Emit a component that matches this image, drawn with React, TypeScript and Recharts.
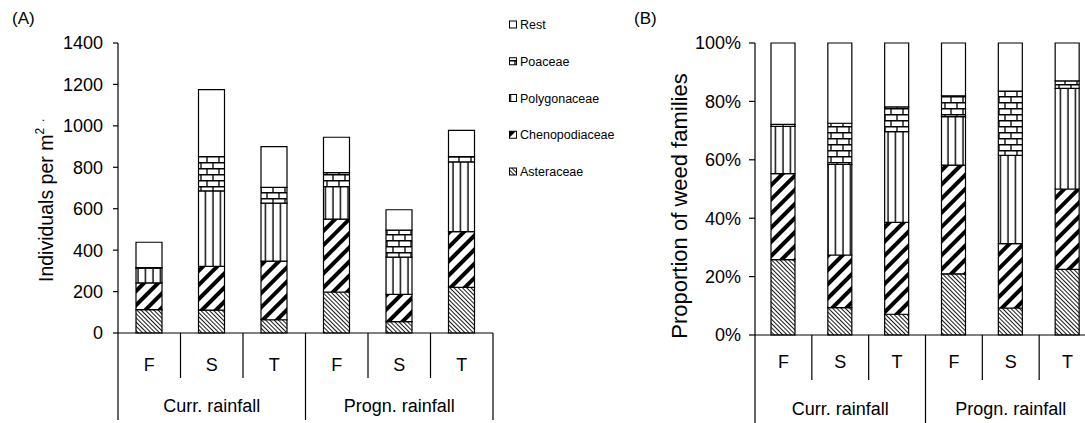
import React from 'react';
import { BarChart, Bar, XAxis, YAxis, Legend } from 'recharts';

// Weed seedling counts (individuals per m²) by family, season and rainfall scenario
const seasons = ['F', 'S', 'T', 'F', 'S', 'T'];
const scenarios = [
  'Curr. rainfall', 'Curr. rainfall', 'Curr. rainfall',
  'Progn. rainfall', 'Progn. rainfall', 'Progn. rainfall',
];
const asteraceae = [113, 110, 64, 198, 55, 220];
const chenopodiaceae = [129, 212, 283, 352, 131, 269];
const polygonaceae = [71, 364, 280, 157, 180, 337];
const poaceae = [3, 166, 76, 67, 131, 25];
const rest = [122, 323, 197, 171, 98, 127];

const countTicks = [0, 200, 400, 600, 800, 1000, 1200, 1400];
const shareTicks = [0, 0.2, 0.4, 0.6, 0.8, 1];

// Stack order, bottom to top
const families = [
  { key: 'asteraceae', name: 'Asteraceae', fill: 'aster' },
  { key: 'chenopodiaceae', name: 'Chenopodiaceae', fill: 'cheno' },
  { key: 'polygonaceae', name: 'Polygonaceae', fill: 'poly' },
  { key: 'poaceae', name: 'Poaceae', fill: 'poa' },
  { key: 'rest', name: 'Rest', fill: 'rest' },
];

const rows = seasons.map((season, i) => ({
  id: `${scenarios[i]}-${season}-${i}`,
  season,
  scenario: scenarios[i],
  asteraceae: asteraceae[i],
  chenopodiaceae: chenopodiaceae[i],
  polygonaceae: polygonaceae[i],
  poaceae: poaceae[i],
  rest: rest[i],
}));

const FONT = "'Liberation Sans', Arial, Helvetica, sans-serif";
const INK = '#000';

const hatchDefs = (p: string) => (
  <defs>
    <pattern id={`${p}-aster`} width={3} height={3} patternUnits="userSpaceOnUse" patternTransform="rotate(-45)">
      <rect width={3} height={3} fill="#fff" />
      <line x1={0.5} y1={0} x2={0.5} y2={3} stroke={INK} strokeWidth={0.9} />
    </pattern>
    <pattern id={`${p}-cheno`} width={10} height={10} patternUnits="userSpaceOnUse" patternTransform="rotate(45)">
      <rect width={10} height={10} fill="#fff" />
      <rect x={0} y={0} width={4} height={10} fill={INK} />
    </pattern>
    <pattern id={`${p}-poly`} width={7.5} height={10} patternUnits="userSpaceOnUse">
      <rect width={7.5} height={10} fill="#fff" />
      <line x1={3} x2={3} y1={0} y2={10} stroke={INK} strokeWidth={1.4} />
    </pattern>
    <pattern id={`${p}-poa`} width={12} height={12} patternUnits="userSpaceOnUse">
      <rect width={12} height={12} fill="#fff" />
      <line x1={0} x2={12} y1={0.75} y2={0.75} stroke={INK} strokeWidth={1.5} />
      <line x1={0} x2={12} y1={6.75} y2={6.75} stroke={INK} strokeWidth={1.5} />
      <line x1={3} x2={3} y1={0} y2={6} stroke={INK} strokeWidth={1.3} />
      <line x1={9} x2={9} y1={6} y2={12} stroke={INK} strokeWidth={1.3} />
    </pattern>
    <pattern id={`${p}-rest`} width={4} height={4} patternUnits="userSpaceOnUse">
      <rect width={4} height={4} fill="#fff" />
    </pattern>
  </defs>
);

type TickGeom = {
  bottom: number;
  band: number;
  labelY: number;
  groupY: number;
  innerLen: number;
  groupLen: number;
};

const makeCategoryTick = (g: TickGeom) => (props: any) => {
  const { x, index } = props;
  const half = g.band / 2;
  const groupEnd = index % 3 === 2;
  return (
    <g>
      {index === 0 && (
        <line x1={x - half} x2={x - half} y1={g.bottom} y2={g.bottom + g.groupLen} stroke={INK} strokeWidth={1.2} />
      )}
      <line
        x1={x + half}
        x2={x + half}
        y1={g.bottom}
        y2={g.bottom + (groupEnd ? g.groupLen : g.innerLen)}
        stroke={INK}
        strokeWidth={1.2}
      />
      <text x={x} y={g.labelY} textAnchor="middle" fontSize={18} fontFamily={FONT} fill={INK}>
        {seasons[index]}
      </text>
      {index % 3 === 1 && (
        <text x={x} y={g.groupY} textAnchor="middle" fontSize={18} fontFamily={FONT} fill={INK}>
          {scenarios[index]}
        </text>
      )}
    </g>
  );
};

const CountTitle = () => (
  <g fontFamily={FONT} fill={INK}>
    <text x={12} y={24} fontSize={17}>(A)</text>
    <text transform="translate(53,282) rotate(-90)" fontSize={19.5}>
      Individuals per m
      <tspan dy={-9} fontSize={12}>2</tspan>
      <tspan dx={6} dy={0} fontSize={12}>.</tspan>
    </text>
  </g>
);

const ShareTitle = () => (
  <g fontFamily={FONT} fill={INK}>
    <text x={34} y={24} fontSize={17}>(B)</text>
    <text transform="translate(87,206) rotate(-90)" textAnchor="middle" fontSize={22}>
      Proportion of weed families
    </text>
  </g>
);

// Legend lists the families top to bottom in the same order as the stacks
const FamilyLegend = () => {
  const items = [...families].reverse();
  return (
    <svg width={200} height={190}>
      {items.map((f, i) => {
        const cy = 25 + i * 36.75;
        return (
          <g key={f.key}>
            <rect x={9.5} y={cy - 4} width={7} height={7} fill={`url(#a-${f.fill})`} stroke={INK} strokeWidth={1} />
            <text x={20} y={cy + 4} fontSize={12.5} fontFamily={FONT} fill={INK}>
              {f.name}
            </text>
          </g>
        );
      })}
    </svg>
  );
};

const tickStyle = { fill: INK, fontSize: 18, fontFamily: FONT };
const lineStyle = { stroke: INK, strokeWidth: 1.2 };

export default function App() {
  return (
    <div
      style={{
        position: 'absolute',
        left: 0,
        top: 0,
        width: 1085,
        height: 423,
        overflow: 'hidden',
        background: '#fff',
      }}
    >
      <div style={{ position: 'absolute', left: 0, top: 0 }}>
        <BarChart width={600} height={423} data={rows} margin={{ top: 43, right: 107, bottom: 0, left: 0 }}>
          {hatchDefs('a')}
          <XAxis
            dataKey="id"
            height={90}
            interval={0}
            tickLine={false}
            axisLine={lineStyle}
            tick={makeCategoryTick({ bottom: 333, band: 62.5, labelY: 371, groupY: 412, innerLen: 45, groupLen: 87 })}
          />
          <YAxis
            width={118}
            domain={[0, 1400]}
            ticks={countTicks}
            interval={0}
            tick={tickStyle}
            tickSize={5}
            tickMargin={10}
            tickLine={lineStyle}
            axisLine={lineStyle}
            label={<CountTitle />}
          />
          <Legend
            layout="vertical"
            align="center"
            verticalAlign="middle"
            content={<FamilyLegend />}
            wrapperStyle={{ position: 'absolute', left: 500, top: 0, width: 200, height: 190 }}
          />
          {families.map((f) => (
            <Bar
              key={f.key}
              dataKey={f.key}
              name={f.name}
              stackId="count"
              fill={`url(#a-${f.fill})`}
              stroke={INK}
              strokeWidth={1.2}
              barSize={26}
              isAnimationActive={false}
            />
          ))}
        </BarChart>
      </div>
      <div style={{ position: 'absolute', left: 600, top: 0 }}>
        <BarChart
          width={500}
          height={423}
          data={rows}
          stackOffset="expand"
          margin={{ top: 43, right: 4, bottom: 0, left: 0 }}
        >
          {hatchDefs('b')}
          <XAxis
            dataKey="id"
            height={88}
            interval={0}
            tickLine={false}
            axisLine={lineStyle}
            tick={makeCategoryTick({ bottom: 335, band: 56.83, labelY: 368, groupY: 415, innerLen: 45, groupLen: 88 })}
          />
          <YAxis
            width={155}
            domain={[0, 1]}
            ticks={shareTicks}
            interval={0}
            tickFormatter={(v: number) => `${Math.round(v * 100)}%`}
            tick={tickStyle}
            tickSize={6}
            tickMargin={8}
            tickLine={lineStyle}
            axisLine={lineStyle}
            label={<ShareTitle />}
          />
          {families.map((f) => (
            <Bar
              key={f.key}
              dataKey={f.key}
              name={f.name}
              stackId="share"
              fill={`url(#b-${f.fill})`}
              stroke={INK}
              strokeWidth={1.2}
              barSize={24}
              isAnimationActive={false}
            />
          ))}
        </BarChart>
      </div>
    </div>
  );
}
